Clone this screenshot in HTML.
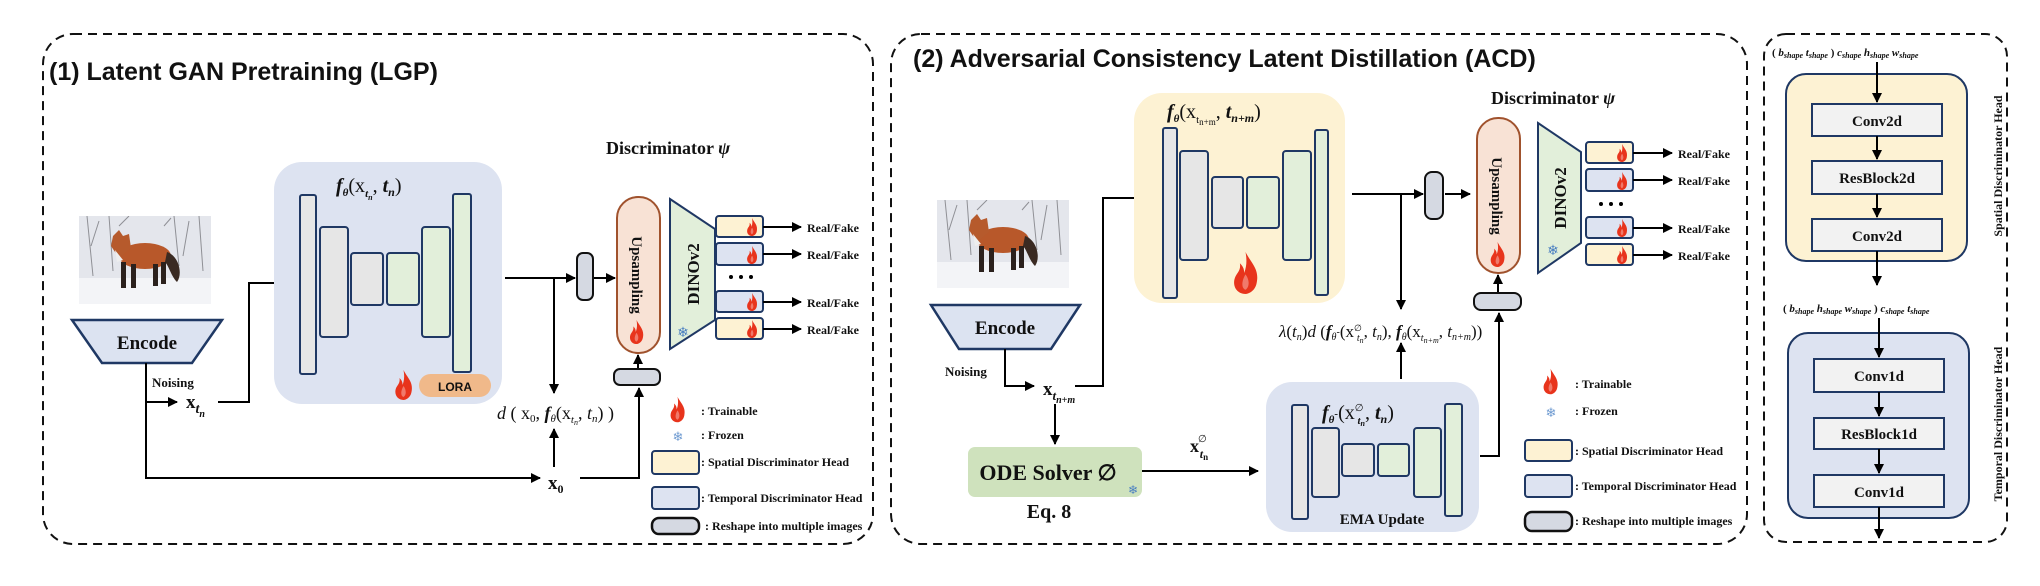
<!DOCTYPE html>
<html><head><meta charset="utf-8"><style>
html,body{margin:0;padding:0;background:#fff;}
svg{display:block;}
.t{font-family:"Liberation Serif",serif;font-weight:bold;fill:#111;}
.ti{font-family:"Liberation Sans",sans-serif;font-weight:bold;fill:#111;}
.m{font-family:"Liberation Serif",serif;fill:#111;}
</style></head><body>
<svg width="2040" height="586" viewBox="0 0 2040 586" xmlns="http://www.w3.org/2000/svg">
<defs>
<marker id="ah" viewBox="0 0 10 10" refX="9" refY="5" markerWidth="5" markerHeight="5" orient="auto-start-reverse" markerUnits="strokeWidth"><path d="M0 0L10 5L0 10Z" fill="#000"/></marker>
<symbol id="fire" viewBox="0 0 20 30"><path d="M10 0C14 8 20 12 18 22C17 28 12 30 10 30C5 30 1 26 2 20C3 15 7 14 6 8C9 11 9 13 9 15C11 10 11 5 10 0Z" fill="#e8341c"/><path d="M10 16C13 20 13 25 10 27C7 26 7 21 10 16Z" fill="#fff" opacity=".35"/></symbol>
<symbol id="fox" viewBox="0 0 132 88">
<rect width="132" height="88" fill="#e4e6ec"/>
<rect y="62" width="132" height="26" fill="#f3f4f7"/>
<g stroke="#6b6b70" stroke-width="1" fill="none" opacity=".7"><path d="M8 0L14 60M20 5L12 30M30 0L34 55M40 10L50 0M95 0L100 50M110 5L104 40M120 0L124 55M85 10L92 2"/></g>
<ellipse cx="66" cy="40" rx="26" ry="13" fill="#b8582a"/>
<path d="M88 36C100 40 104 58 98 66C92 60 90 50 86 46Z" fill="#3a2a22"/>
<path d="M34 20L40 14L44 20L50 18L52 32L40 42L32 30Z" fill="#b65a2c"/>
<path d="M36 34L44 44L38 46Z" fill="#eee"/>
<g fill="#2b211d"><rect x="42" y="46" width="5" height="26"/><rect x="52" y="48" width="5" height="24"/><rect x="74" y="48" width="5" height="22"/><rect x="82" y="46" width="5" height="22"/></g>
</symbol>
</defs>

<g fill="none" stroke="#111" stroke-width="2" stroke-dasharray="9 6">
<rect x="43" y="34" width="830" height="510" rx="30"/>
<rect x="891" y="34" width="856" height="510" rx="30"/>
<rect x="1764" y="34" width="243" height="508" rx="22"/>
</g>

<!-- Panel 1 -->
<text class="ti" x="49" y="80" font-size="25">(1) Latent GAN Pretraining (LGP)</text>
<use href="#fox" x="79" y="216" width="132" height="88"/>
<path d="M72 320H222L192 363H102Z" fill="#dce3f1" stroke="#1f3864" stroke-width="2.5"/>
<text class="t" x="147" y="349" font-size="19" text-anchor="middle">Encode</text>
<text class="t" x="152" y="387" font-size="13">Noising</text>
<g stroke="#000" stroke-width="2" fill="none">
<path d="M146 363V478H540" marker-end="url(#ah)"/>
<path d="M146 402H177" marker-end="url(#ah)"/>
<path d="M218 402H249V283H274"/>
</g>
<text class="m" x="186" y="408" font-size="19" font-weight="bold">x<tspan font-style="italic" font-size="14" dy="5">t</tspan><tspan font-style="italic" font-size="10" dy="4">n</tspan></text>

<rect x="274" y="162" width="228" height="242" rx="28" fill="#dde3f1"/>
<text class="m" x="336" y="192" font-size="20" font-style="italic" font-weight="bold">f<tspan font-size="11" dy="4">θ</tspan><tspan dy="-4" font-style="normal" font-weight="normal">(x</tspan><tspan font-size="11" dy="5">t</tspan><tspan font-size="8" dy="3">n</tspan><tspan dy="-8" font-style="normal" font-weight="normal">, </tspan>t<tspan font-size="12" dy="4">n</tspan><tspan dy="-4" font-style="normal" font-weight="normal">)</tspan></text>
<g stroke="#1f3864" stroke-width="2">
<rect x="300" y="195" width="16" height="179" rx="2" fill="#e6e6e6"/>
<rect x="320" y="227" width="28" height="110" rx="3" fill="#e6e6e6"/>
<rect x="351" y="253" width="32" height="52" rx="3" fill="#e6e6e6"/>
<rect x="387" y="253" width="32" height="52" rx="3" fill="#e2efda"/>
<rect x="422" y="227" width="28" height="110" rx="3" fill="#e2efda"/>
<rect x="453" y="194" width="18" height="178" rx="2" fill="#e2efda"/>
</g>
<rect x="419" y="374" width="72" height="23" rx="11.5" fill="#f0b98a"/>
<text class="ti" x="455" y="391" font-size="12" font-weight="normal" text-anchor="middle">LORA</text>
<use href="#fire" x="393" y="370" width="21" height="30"/>

<g stroke="#000" stroke-width="2" fill="none">
<path d="M505 278H575" marker-end="url(#ah)"/>
<path d="M594 278H615" marker-end="url(#ah)"/>
<path d="M554 278V393" marker-end="url(#ah)"/>
<path d="M554 467V429" marker-end="url(#ah)"/>
<path d="M580 478H639V388" marker-end="url(#ah)"/>
<path d="M638 369V355" marker-end="url(#ah)"/>
</g>
<rect x="577" y="253" width="16" height="47" rx="6" fill="#d5d9e2" stroke="#111" stroke-width="2"/>
<rect x="614" y="369" width="46" height="16" rx="6" fill="#d5d9e2" stroke="#111" stroke-width="2"/>
<text class="m" x="497" y="419" font-size="18" font-style="italic">d <tspan font-style="normal">( x</tspan><tspan font-size="11" dy="3" font-style="normal">0</tspan><tspan dy="-3" font-style="normal">, </tspan><tspan font-weight="bold">f</tspan><tspan font-size="11" dy="3">θ</tspan><tspan dy="-3" font-style="normal">(x</tspan><tspan font-size="11" dy="4">t</tspan><tspan font-size="8" dy="2">n</tspan><tspan dy="-6" font-style="normal">, </tspan>t<tspan font-size="11" dy="3">n</tspan><tspan dy="-3" font-style="normal">) )</tspan></text>
<text class="m" x="548" y="489" font-size="19" font-weight="bold">x<tspan font-size="12" dy="4">0</tspan></text>

<text class="t" x="606" y="154" font-size="18">Discriminator <tspan font-style="italic">ψ</tspan></text>
<rect x="617" y="197" width="43" height="156" rx="21" fill="#f8e2d5" stroke="#a0522d" stroke-width="2"/>
<text class="t" font-size="15" transform="translate(632 275) rotate(90)" text-anchor="middle">Upsampling</text>
<use href="#fire" x="628" y="320" width="17" height="24"/>
<path d="M670 199L715 229V320L670 349Z" fill="#e2efda" stroke="#1f3864" stroke-width="2"/>
<text class="t" font-size="17" transform="translate(699 274) rotate(-90)" text-anchor="middle">DINOv2</text>
<text x="683" y="337" font-size="14" fill="#4a7fc1" text-anchor="middle">❄</text>
<g stroke="#1f3864" stroke-width="2">
<rect x="716" y="216" width="47" height="21" rx="3" fill="#fdf2d3"/>
<rect x="716" y="243" width="47" height="22" rx="3" fill="#dde3f1"/>
<rect x="716" y="291" width="47" height="21" rx="3" fill="#dde3f1"/>
<rect x="716" y="318" width="47" height="21" rx="3" fill="#fdf2d3"/>
</g>
<use href="#fire" x="746" y="218" width="12" height="18"/>
<use href="#fire" x="746" y="246" width="12" height="18"/>
<use href="#fire" x="746" y="293" width="12" height="18"/>
<use href="#fire" x="746" y="320" width="12" height="18"/>
<g stroke="#000" stroke-width="2" fill="none">
<path d="M763 227H801" marker-end="url(#ah)"/>
<path d="M763 254H801" marker-end="url(#ah)"/>
<path d="M763 302H801" marker-end="url(#ah)"/>
<path d="M763 329H801" marker-end="url(#ah)"/>
</g>
<g class="t" font-size="12"><text x="807" y="232">Real/Fake</text><text x="807" y="259">Real/Fake</text><text x="807" y="307">Real/Fake</text><text x="807" y="334">Real/Fake</text></g>
<g fill="#000"><circle cx="731" cy="277" r="2"/><circle cx="741" cy="277" r="2"/><circle cx="751" cy="277" r="2"/></g>

<use href="#fire" x="669" y="396" width="17" height="27"/>
<text class="t" x="701" y="415" font-size="12">: Trainable</text>
<text x="678" y="441" font-size="13" fill="#6f9bd1" text-anchor="middle">❄</text>
<text class="t" x="701" y="439" font-size="12">: Frozen</text>
<rect x="652" y="451" width="47" height="23" rx="3" fill="#fdf2d3" stroke="#1f3864" stroke-width="2"/>
<text class="t" x="701" y="466" font-size="12">: Spatial Discriminator Head</text>
<rect x="652" y="487" width="47" height="22" rx="3" fill="#dde3f1" stroke="#1f3864" stroke-width="2"/>
<text class="t" x="701" y="502" font-size="12">: Temporal Discriminator Head</text>
<rect x="652" y="518" width="47" height="16" rx="7" fill="#d5d9e2" stroke="#111" stroke-width="2.5"/>
<text class="t" x="705" y="530" font-size="12">: Reshape into multiple images</text>

<!-- Panel 2 -->
<text class="ti" x="913" y="67" font-size="25">(2) Adversarial Consistency Latent Distillation (ACD)</text>
<use href="#fox" x="937" y="200" width="132" height="88"/>
<path d="M931 305H1080L1051 349H959Z" fill="#dce3f1" stroke="#1f3864" stroke-width="2.5"/>
<text class="t" x="1005" y="334" font-size="19" text-anchor="middle">Encode</text>
<text class="t" x="945" y="376" font-size="13">Noising</text>
<g stroke="#000" stroke-width="2" fill="none">
<path d="M1005 349V386H1034" marker-end="url(#ah)"/>
<path d="M1075 386H1103V198H1134"/>
<path d="M1055 404V444" marker-end="url(#ah)"/>
<path d="M1142 471H1258" marker-end="url(#ah)"/>
</g>
<text class="m" x="1043" y="395" font-size="19" font-weight="bold">x<tspan font-style="italic" font-size="13" dy="5">t</tspan><tspan font-style="italic" font-size="10" dy="3">n+m</tspan></text>
<rect x="968" y="447" width="174" height="50" rx="7" fill="#cfe2bd"/>
<text class="t" x="1048" y="480" font-size="22" text-anchor="middle">ODE Solver ∅</text>
<text x="1133" y="494" font-size="12" fill="#4a7fc1" text-anchor="middle">❄</text>
<text class="t" x="1049" y="518" font-size="20" text-anchor="middle">Eq. 8</text>
<text class="m" x="1190" y="452" font-size="18" font-weight="bold">x<tspan font-size="10" dx="-1" dy="-10" font-weight="normal">∅</tspan><tspan font-size="12" font-style="italic" dx="-7" dy="16">t</tspan><tspan font-size="9" dy="2">n</tspan></text>

<rect x="1266" y="382" width="213" height="150" rx="26" fill="#dde3f1"/>
<text class="m" x="1322" y="419" font-size="20" font-style="italic" font-weight="bold">f<tspan font-size="11" dy="4">θ</tspan><tspan font-size="11" dy="-6">-</tspan><tspan dy="2" font-style="normal" font-weight="normal">(x</tspan><tspan font-size="10" dy="-8" font-style="normal" font-weight="normal">∅</tspan><tspan font-size="11" dx="-6" dy="13">t</tspan><tspan font-size="8" dy="2">n</tspan><tspan dy="-7" font-style="normal" font-weight="normal">, </tspan>t<tspan font-size="12" dy="4">n</tspan><tspan dy="-4" font-style="normal" font-weight="normal">)</tspan></text>
<g stroke="#1f3864" stroke-width="2">
<rect x="1292" y="405" width="16" height="114" rx="2" fill="#e6e6e6"/>
<rect x="1312" y="428" width="27" height="69" rx="3" fill="#e6e6e6"/>
<rect x="1342" y="444" width="32" height="32" rx="3" fill="#e6e6e6"/>
<rect x="1378" y="444" width="31" height="32" rx="3" fill="#e2efda"/>
<rect x="1414" y="428" width="27" height="69" rx="3" fill="#e2efda"/>
<rect x="1445" y="404" width="17" height="112" rx="2" fill="#e2efda"/>
</g>
<text class="t" x="1382" y="524" font-size="15" text-anchor="middle">EMA Update</text>

<rect x="1134" y="93" width="211" height="210" rx="28" fill="#fdf2d3"/>
<text class="m" x="1167" y="118" font-size="20" font-style="italic" font-weight="bold">f<tspan font-size="11" dy="4">θ</tspan><tspan dy="-4" font-style="normal" font-weight="normal">(x</tspan><tspan font-size="11" dy="5" font-style="normal" font-weight="normal">t</tspan><tspan font-size="9" dy="2" font-style="normal" font-weight="normal">n+m</tspan><tspan dy="-7" font-style="normal" font-weight="normal">, </tspan>t<tspan font-size="12" dy="4">n+m</tspan><tspan dy="-4" font-style="normal" font-weight="normal">)</tspan></text>
<g stroke="#1f3864" stroke-width="2">
<rect x="1163" y="128" width="14" height="170" rx="2" fill="#e6e6e6"/>
<rect x="1180" y="151" width="28" height="109" rx="3" fill="#e6e6e6"/>
<rect x="1212" y="177" width="31" height="51" rx="3" fill="#e6e6e6"/>
<rect x="1247" y="177" width="32" height="51" rx="3" fill="#e2efda"/>
<rect x="1283" y="151" width="28" height="109" rx="3" fill="#e2efda"/>
<rect x="1315" y="130" width="13" height="165" rx="2" fill="#e2efda"/>
</g>
<use href="#fire" x="1231" y="252" width="29" height="42"/>

<g stroke="#000" stroke-width="2" fill="none">
<path d="M1352 194H1423" marker-end="url(#ah)"/>
<path d="M1445 194H1470" marker-end="url(#ah)"/>
<path d="M1401 194V309" marker-end="url(#ah)"/>
<path d="M1401 379V343" marker-end="url(#ah)"/>
<path d="M1480 456H1499V313" marker-end="url(#ah)"/>
<path d="M1498 293V275" marker-end="url(#ah)"/>
</g>
<rect x="1425" y="172" width="18" height="47" rx="7" fill="#d5d9e2" stroke="#111" stroke-width="2"/>
<rect x="1474" y="293" width="47" height="17" rx="7" fill="#d5d9e2" stroke="#111" stroke-width="2"/>
<text class="m" x="1279" y="337" font-size="17" font-style="italic">λ<tspan font-style="normal">(</tspan>t<tspan font-size="10" dy="3">n</tspan><tspan font-style="normal" dy="-3">)</tspan>d <tspan font-style="normal">(</tspan><tspan font-weight="bold">f</tspan><tspan font-size="10" dy="3">θ</tspan><tspan font-size="10" dy="-5">-</tspan><tspan font-style="normal" dy="2">(x</tspan><tspan font-size="9" dy="-6" font-style="normal">∅</tspan><tspan font-size="10" dx="-5" dy="10">t</tspan><tspan font-size="8" dy="2">n</tspan><tspan font-style="normal" dy="-6">, </tspan>t<tspan font-size="10" dy="3">n</tspan><tspan font-style="normal" dy="-3">), </tspan><tspan font-weight="bold">f</tspan><tspan font-size="10" dy="3">θ</tspan><tspan font-style="normal" dy="-3">(x</tspan><tspan font-size="10" dy="4">t</tspan><tspan font-size="8" dy="2">n+m</tspan><tspan font-style="normal" dy="-6">, </tspan>t<tspan font-size="10" dy="3">n+m</tspan><tspan font-style="normal" dy="-3">))</tspan></text>

<text class="t" x="1491" y="104" font-size="18">Discriminator <tspan font-style="italic">ψ</tspan></text>
<rect x="1477" y="118" width="43" height="155" rx="21" fill="#f8e2d5" stroke="#a0522d" stroke-width="2"/>
<text class="t" font-size="15" transform="translate(1492 196) rotate(90)" text-anchor="middle">Upsampling</text>
<use href="#fire" x="1489" y="242" width="17" height="25"/>
<path d="M1538 123L1581 152V243L1538 273Z" fill="#e2efda" stroke="#1f3864" stroke-width="2"/>
<text class="t" font-size="17" transform="translate(1566 198) rotate(-90)" text-anchor="middle">DINOv2</text>
<text x="1553" y="255" font-size="14" fill="#4a7fc1" text-anchor="middle">❄</text>
<g stroke="#1f3864" stroke-width="2">
<rect x="1586" y="142" width="47" height="21" rx="3" fill="#fdf2d3"/>
<rect x="1586" y="169" width="47" height="22" rx="3" fill="#dde3f1"/>
<rect x="1586" y="217" width="47" height="21" rx="3" fill="#dde3f1"/>
<rect x="1586" y="244" width="47" height="21" rx="3" fill="#fdf2d3"/>
</g>
<use href="#fire" x="1616" y="144" width="12" height="18"/>
<use href="#fire" x="1616" y="172" width="12" height="18"/>
<use href="#fire" x="1616" y="219" width="12" height="18"/>
<use href="#fire" x="1616" y="246" width="12" height="18"/>
<g stroke="#000" stroke-width="2" fill="none">
<path d="M1633 153H1672" marker-end="url(#ah)"/>
<path d="M1633 180H1672" marker-end="url(#ah)"/>
<path d="M1633 228H1672" marker-end="url(#ah)"/>
<path d="M1633 255H1672" marker-end="url(#ah)"/>
</g>
<g class="t" font-size="12"><text x="1678" y="158">Real/Fake</text><text x="1678" y="185">Real/Fake</text><text x="1678" y="233">Real/Fake</text><text x="1678" y="260">Real/Fake</text></g>
<g fill="#000"><circle cx="1601" cy="204" r="2"/><circle cx="1611" cy="204" r="2"/><circle cx="1621" cy="204" r="2"/></g>

<use href="#fire" x="1542" y="368" width="17" height="27"/>
<text class="t" x="1575" y="388" font-size="12">: Trainable</text>
<text x="1551" y="417" font-size="13" fill="#6f9bd1" text-anchor="middle">❄</text>
<text class="t" x="1575" y="415" font-size="12">: Frozen</text>
<rect x="1525" y="440" width="47" height="21" rx="3" fill="#fdf2d3" stroke="#1f3864" stroke-width="2"/>
<text class="t" x="1575" y="455" font-size="12">: Spatial Discriminator Head</text>
<rect x="1525" y="475" width="47" height="22" rx="3" fill="#dde3f1" stroke="#1f3864" stroke-width="2"/>
<text class="t" x="1575" y="490" font-size="12">: Temporal Discriminator Head</text>
<rect x="1525" y="512" width="47" height="19" rx="7" fill="#d5d9e2" stroke="#111" stroke-width="2.5"/>
<text class="t" x="1575" y="525" font-size="12">: Reshape into multiple images</text>

<!-- Panel 3 -->
<text class="m" x="1772" y="56" font-size="11" font-style="italic" font-weight="bold"><tspan font-style="normal">( </tspan>b<tspan font-size="8" dy="2">shape</tspan><tspan dy="-2"> t</tspan><tspan font-size="8" dy="2">shape</tspan><tspan dy="-2" font-style="normal"> ) </tspan>c<tspan font-size="8" dy="2">shape</tspan><tspan dy="-2"> h</tspan><tspan font-size="8" dy="2">shape</tspan><tspan dy="-2"> w</tspan><tspan font-size="8" dy="2">shape</tspan></text>
<rect x="1786" y="74" width="181" height="187" rx="20" fill="#fdf2d3" stroke="#1f3864" stroke-width="2"/>
<rect x="1788" y="333" width="181" height="185" rx="20" fill="#dde3f1" stroke="#1f3864" stroke-width="2"/>
<g stroke="#1f3864" stroke-width="2" fill="#f2f2f2">
<rect x="1812" y="104" width="130" height="32"/>
<rect x="1812" y="161" width="130" height="33"/>
<rect x="1812" y="219" width="130" height="32"/>
<rect x="1814" y="359" width="130" height="33"/>
<rect x="1814" y="418" width="130" height="31"/>
<rect x="1814" y="475" width="130" height="32"/>
</g>
<g class="t" font-size="15" text-anchor="middle">
<text x="1877" y="126">Conv2d</text>
<text x="1877" y="183">ResBlock2d</text>
<text x="1877" y="241">Conv2d</text>
<text x="1879" y="381">Conv1d</text>
<text x="1879" y="439">ResBlock1d</text>
<text x="1879" y="497">Conv1d</text>
</g>
<g stroke="#000" stroke-width="2" fill="none">
<path d="M1877 62V102" marker-end="url(#ah)"/>
<path d="M1877 136V159" marker-end="url(#ah)"/>
<path d="M1877 194V217" marker-end="url(#ah)"/>
<path d="M1877 251V285" marker-end="url(#ah)"/>
<path d="M1879 318V357" marker-end="url(#ah)"/>
<path d="M1879 392V416" marker-end="url(#ah)"/>
<path d="M1879 449V473" marker-end="url(#ah)"/>
<path d="M1879 507V538" marker-end="url(#ah)"/>
</g>
<text class="m" x="1783" y="312" font-size="11" font-style="italic" font-weight="bold"><tspan font-style="normal">( </tspan>b<tspan font-size="8" dy="2">shape</tspan><tspan dy="-2"> h</tspan><tspan font-size="8" dy="2">shape</tspan><tspan dy="-2"> w</tspan><tspan font-size="8" dy="2">shape</tspan><tspan dy="-2" font-style="normal"> ) </tspan>c<tspan font-size="8" dy="2">shape</tspan><tspan dy="-2"> t</tspan><tspan font-size="8" dy="2">shape</tspan></text>
<text class="t" font-size="12" transform="translate(2002 166) rotate(-90)" text-anchor="middle">Spatial Discriminator Head</text>
<text class="t" font-size="12" transform="translate(2002 424) rotate(-90)" text-anchor="middle">Temporal Discriminator Head</text>
</svg>
</body></html>
